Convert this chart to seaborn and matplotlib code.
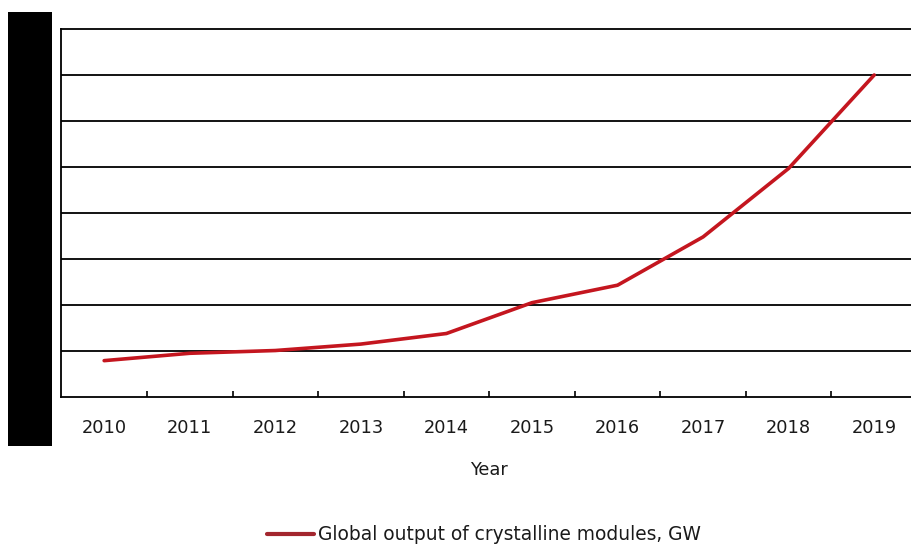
import matplotlib
matplotlib.use("Agg")
import matplotlib.pyplot as plt
import matplotlib.patches as mpatches
from matplotlib.lines import Line2D
from matplotlib.ticker import FixedLocator, NullFormatter
import seaborn as sns
import pandas as pd

years = ["2010", "2011", "2012", "2013", "2014", "2015", "2016", "2017", "2018", "2019"]
output_gw = [0.79, 0.95, 1.01, 1.15, 1.38, 2.05, 2.43, 3.48, 4.97, 7.0]
series_name = "Global output of crystalline modules, GW"
x_title = "Year"

sns.set_theme(style="white")
plt.rcParams["font.family"] = ["DejaVu Sans"]

df = pd.DataFrame({"Year": years, "Output": output_gw})

fig = plt.figure(figsize=(9.12, 5.49), dpi=100)
ax = fig.add_axes([0.0673, 0.2769, 0.9382, 0.6703])

line_color = "#c4161f"
sns.lineplot(data=df, x="Year", y="Output", ax=ax, color=line_color,
             linewidth=2.6, sort=False, legend=False, zorder=3)

ax.set_xlim(-0.5, len(years) - 0.5)
ax.set_ylim(0, 8)
ax.set_yticks(range(1, 8))
ax.set_yticklabels([])
ax.tick_params(axis="y", length=0)
ax.grid(axis="y", color="black", linewidth=1.3)
ax.grid(axis="x", visible=False)

for side in ["left", "top", "bottom"]:
    ax.spines[side].set_color("black")
    ax.spines[side].set_linewidth(1.3)
ax.spines["right"].set_visible(False)

fs = 12.8
ax.set_xticks(range(len(years)))
ax.set_xticklabels(years, fontsize=fs, color="#1a1a1a")
ax.tick_params(axis="x", which="major", length=0, pad=16)
ax.xaxis.set_minor_locator(FixedLocator([i + 0.5 for i in range(len(years) - 1)]))
ax.xaxis.set_minor_formatter(NullFormatter())
ax.tick_params(axis="x", which="minor", direction="in", length=4, width=1.2,
               color="black", bottom=True)

ax.set_xlabel(x_title, fontsize=fs, color="#1a1a1a", labelpad=17)
ax.set_ylabel("")

# Block covering the value-axis label area
fig.patches.append(mpatches.Rectangle((8 / 912, 1 - 446 / 549), 44 / 912, 434 / 549,
                                      transform=fig.transFigure, facecolor="black",
                                      edgecolor="none"))

handle = Line2D([], [], color="#a3262e", linewidth=3)
fig.legend([handle], [series_name], loc="center left",
           bbox_to_anchor=(267 / 912, 1 - 535 / 549),
           frameon=False, fontsize=13.4, borderpad=0, borderaxespad=0,
           handlelength=2.55, handletextpad=0.2, labelcolor="#1a1a1a")

fig.savefig("out.png", dpi=100, facecolor="white")
